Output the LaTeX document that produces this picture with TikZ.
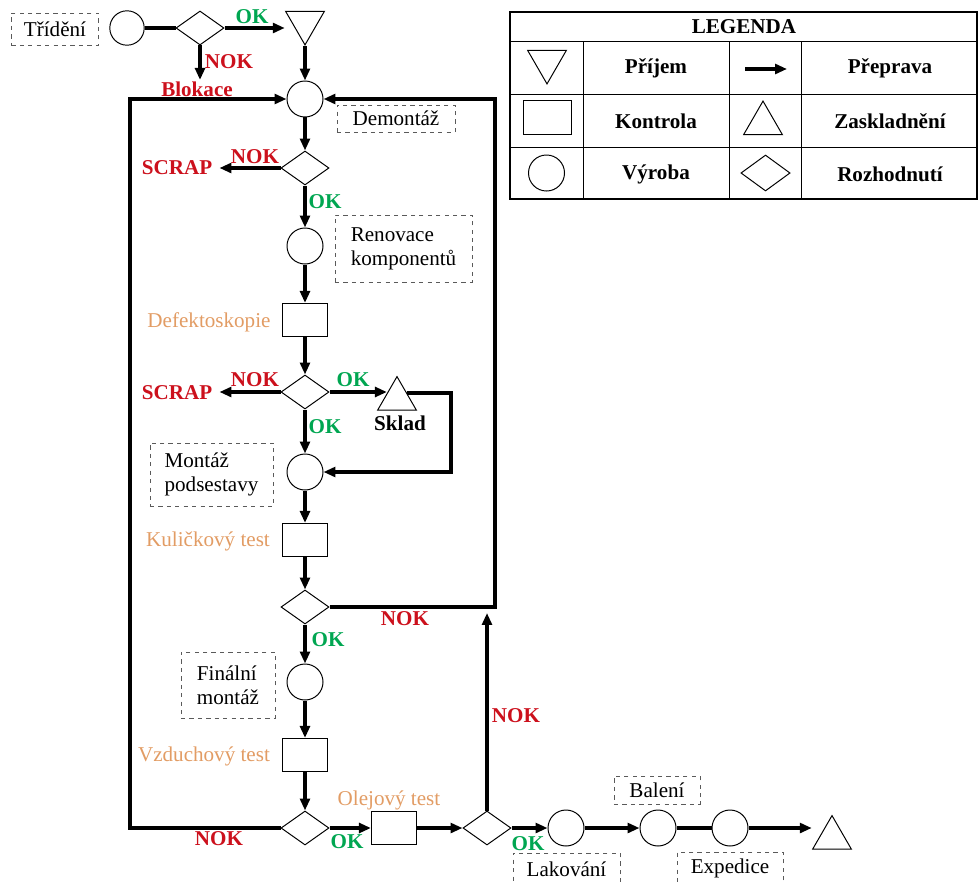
\documentclass[tikz,border=0pt]{standalone}
\usepackage{fontspec}
\setmainfont{Liberation Serif}
\usepackage{xcolor}
\usetikzlibrary{shapes.geometric,arrows.meta,calc}
\definecolor{okzelena}{RGB}{0,166,81}
\definecolor{nokcervena}{RGB}{204,16,28}
\definecolor{testoranz}{RGB}{226,156,100}
\definecolor{ramecek}{RGB}{90,90,90}
\newcommand{\velke}{\fontsize{15}{17}\selectfont}

\begin{document}
\begin{tikzpicture}[x=0.025cm, y=-0.025cm,
    flow/.style={line width=2.4pt, -{Triangle[length=8.5pt,width=7pt]}},
    spoj/.style={line width=2.4pt},
    tvar/.style={draw, line width=0.7pt, inner sep=0pt, fill=white},
    vyroba/.style={tvar, circle, minimum size=0.9cm},
    kontrola/.style={tvar, rectangle, minimum width=1.13cm, minimum height=0.83cm},
    rozhod/.style={tvar, diamond, minimum width=1.2cm, minimum height=0.85cm},
    prijem/.style={tvar, regular polygon, regular polygon sides=3, shape border rotate=180, minimum size=1.12cm},
    zasklad/.style={tvar, regular polygon, regular polygon sides=3, minimum size=1.12cm},
    popis/.style={font=\velke, draw=ramecek, dashed, line width=0.5pt, align=left, inner sep=0pt},
    ok/.style={font=\velke\bfseries, text=okzelena, inner sep=1pt},
    nok/.style={font=\velke\bfseries, text=nokcervena, inner sep=1pt},
    test/.style={font=\velke, text=testoranz, inner sep=1pt},
    leg/.style={font=\velke\bfseries, inner sep=1pt}]
    \useasboundingbox (0,0) rectangle (978,881);

    % Trideni a prijem
    \node[popis, minimum width=2.18cm, minimum height=0.8cm] (tridbox) at (55,29) {Třídění};
    \node[vyroba, minimum size=0.86cm] (trid) at (127,28) {};
    \node[rozhod] (d1) at (200,28) {};
    \node[prijem] (prij) at (305,22.5) {};
    \node[ok] (ok1) at (252,17) {OK};
    \node[nok] (nok1) at (229,62) {NOK};
    \node[nok] (blok) at (197,89) {Blokace};
    \draw[spoj] (trid) -- (d1);
    \draw[flow] (d1.east) -- (d1.east -| prij.corner 3);
    \draw[flow] (d1.south) -- (d1.south |- blok.north);

    % Demontaz
    \node[vyroba] (demont) at (305,99) {};
    \node[popis, minimum width=2.95cm, minimum height=0.68cm] (demontbox) at (396,118.5) {Demontáž};
    \draw[flow] (prij.corner 1) -- (demont.north);
    \node[rozhod] (d2) at (305,168) {};
    \node[nok] (scrap1) at (177,168) {SCRAP};
    \node[nok] (nok2) at (255,157) {NOK};
    \node[ok] (ok2) at (325,202) {OK};
    \draw[flow] (demont) -- (d2);
    \draw[flow] (d2.west) -- ([xshift=4pt]d2.west -| scrap1.east);

    % Renovace a defektoskopie
    \node[vyroba] (renov) at (305,246) {};
    \node[popis, minimum width=3.43cm, minimum height=1.68cm] (renovbox) at (403.5,248.5) {Renovace\\komponentů};
    \node[kontrola] (defekt) at (305,320) {};
    \node[test] (defekttxt) at (209,322) {Defektoskopie};
    \draw[flow] (d2) -- (renov);
    \draw[flow] (renov) -- (defekt);

    % Rozhodnuti po defektoskopii
    \node[rozhod] (d3) at (305,392) {};
    \node[nok] (scrap2) at (177,393) {SCRAP};
    \node[nok] (nok3) at (255,380) {NOK};
    \node[ok] (ok3) at (353,380) {OK};
    \node[ok] (ok4) at (325,427) {OK};
    \node[zasklad] (sklad) at (397,399) {};
    \node[leg] (skladtxt) at (400,423) {Sklad};
    \draw[flow] (defekt) -- (d3);
    \draw[flow] (d3.west) -- ([xshift=4pt]d3.west -| scrap2.east);
    \draw[flow] (d3.east) -- (d3.east -| sklad.side 1);

    % Montaz podsestavy
    \node[vyroba] (montaz) at (305,472) {};
    \node[popis, minimum width=3.08cm, minimum height=1.58cm] (montazbox) at (211.5,474.5) {Montáž\\podsestavy};
    \coordinate (skladroh) at (sklad.side 3 -| 451,0);
    \draw[flow] (d3) -- (montaz);
    \draw[flow] (sklad.side 3) -- (skladroh) |- (montaz.east);

    % Kulickovy test
    \node[kontrola] (kulic) at (305,540) {};
    \node[test] (kulictxt) at (208,541) {Kuličkový test};
    \node[rozhod] (d4) at (305,607) {};
    \node[nok] (nok4) at (405,619) {NOK};
    \node[ok] (ok5) at (328,640) {OK};
    \coordinate (pravy) at (495,99);
    \draw[flow] (montaz) -- (kulic);
    \draw[flow] (kulic) -- (d4);
    \draw[flow] (d4.east) -| (pravy) -- (demont.east);

    % Finalni montaz a vzduchovy test
    \node[vyroba] (final) at (305,682) {};
    \node[popis, minimum width=2.35cm, minimum height=1.65cm] (finalbox) at (228,685) {Finální\\montáž};
    \node[kontrola] (vzduch) at (305,755) {};
    \node[test] (vzduchtxt) at (204,756) {Vzduchový test};
    \node[rozhod] (d5) at (305,828) {};
    \node[nok] (nok5) at (219,839) {NOK};
    \node[ok] (ok6) at (347,842) {OK};
    \coordinate (levy) at (130,99);
    \draw[flow] (d4) -- (final);
    \draw[flow] (final) -- (vzduch);
    \draw[flow] (vzduch) -- (d5);
    \draw[flow] (d5.west) -| (levy) -- (demont.west);

    % Olejovy test a expedice
    \node[kontrola] (olej) at (394,828) {};
    \node[test] (olejtxt) at (389,800) {Olejový test};
    \node[rozhod] (d6) at (487,828) {};
    \node[nok] (nok6) at (516,716) {NOK};
    \node[ok] (ok7) at (528,844) {OK};
    \coordinate (nokcil) at (487,613);
    \node[vyroba] (lak) at (566,828) {};
    \node[popis, minimum width=2.68cm, minimum height=0.8cm] (lakbox) at (566.5,869) {Lakování};
    \node[vyroba] (balen) at (658,828) {};
    \node[popis, minimum width=2.15cm, minimum height=0.7cm] (balenbox) at (657,790) {Balení};
    \node[vyroba] (exped) at (730,828) {};
    \node[popis, minimum width=2.65cm, minimum height=0.8cm] (expedbox) at (730,868) {Expedice};
    \node[zasklad] (konec) at (832,838) {};
    \draw[flow] (d5) -- (olej);
    \draw[flow] (olej) -- (d6);
    \draw[flow] (d6.north) -- (nokcil);
    \draw[flow] (d6) -- (lak);
    \draw[flow] (lak) -- (balen);
    \draw[spoj] (balen) -- (exped);
    \draw[flow] (exped.east) -- (exped.east -| konec.corner 2);

    % Legenda
    \draw[line width=1.2pt] (510,12) rectangle (977,199);
    \foreach \y in {41,94,147}
        \draw[line width=0.6pt] (510,\y) -- (977,\y);
    \foreach \x in {583,729,801}
        \draw[line width=0.6pt] (\x,41) -- (\x,199);
    \node[leg] (legnadpis) at (744,27) {LEGENDA};
    \node[prijem] (legprij) at (547,61.5) {};
    \node[kontrola, minimum width=1.18cm] (legkontr) at (547.5,117.5) {};
    \node[vyroba] (legvyr) at (546.5,173) {};
    \coordinate (legsip1) at (745,69);
    \coordinate (legsip2) at (787,69);
    \draw[flow] (legsip1) -- (legsip2);
    \node[zasklad] (legzas) at (763,123.5) {};
    \node[rozhod, minimum width=1.23cm, minimum height=0.9cm] (legroz) at (765.5,173) {};
    \node[leg] (legt1) at (656,68) {Příjem};
    \node[leg] (legt2) at (890,68) {Přeprava};
    \node[leg] (legt3) at (656,121) {Kontrola};
    \node[leg] (legt4) at (890,121) {Zaskladnění};
    \node[leg] (legt5) at (656,174) {Výroba};
    \node[leg] (legt6) at (890,174) {Rozhodnutí};
\end{tikzpicture}
\end{document}
